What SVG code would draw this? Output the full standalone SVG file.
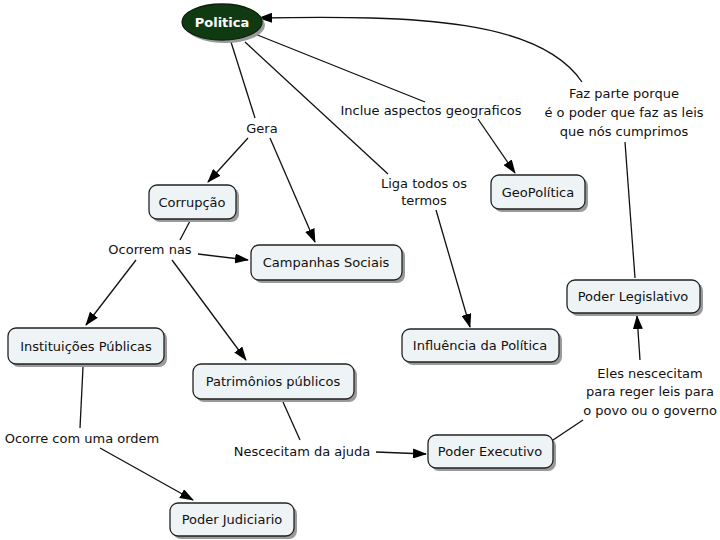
<svg xmlns="http://www.w3.org/2000/svg" width="720" height="540" viewBox="0 0 720 540">
<defs>
<marker id="ah" markerWidth="14" markerHeight="10" refX="13" refY="5" orient="auto" markerUnits="userSpaceOnUse">
<path d="M0,0 L14,5 L0,10 Z" fill="#000"/>
</marker>
<style>
.box{fill:#eef3f5;stroke:#222;stroke-width:1.3}
.sh{fill:#9a9a9a}
.t{font-family:"DejaVu Sans","Liberation Sans",sans-serif;font-size:13px;fill:#111;text-anchor:middle}
.c{fill:none;stroke:#111;stroke-width:1.3}
</style>
</defs>
<rect width="720" height="540" fill="#fff"/>
<g id="connectors">
<path class="c" d="M231,42 L255,118"/>
<path class="c" d="M248,138 L208,182" marker-end="url(#ah)"/>
<path class="c" d="M270,138 L315,242" marker-end="url(#ah)"/>
<path class="c" d="M255,34 L425,102"/>
<path class="c" d="M478,119 L515,173" marker-end="url(#ah)"/>
<path class="c" d="M245,42 L388,174"/>
<path class="c" d="M436,210 L470,327" marker-end="url(#ah)"/>
<path class="c" d="M635,278 L625,142"/>
<path class="c" d="M582,82 C540,20 420,15 259,18" marker-end="url(#ah)"/>
<path class="c" d="M190,221 L180,240"/>
<path class="c" d="M198,254 L248,260" marker-end="url(#ah)"/>
<path class="c" d="M136,260 L86,325" marker-end="url(#ah)"/>
<path class="c" d="M172,260 L246,360" marker-end="url(#ah)"/>
<path class="c" d="M83,367 L80,428"/>
<path class="c" d="M100,448 L193,500" marker-end="url(#ah)"/>
<path class="c" d="M283,402 L300,440"/>
<path class="c" d="M376,452 L426,454" marker-end="url(#ah)"/>
<path class="c" d="M553,440 L583,420"/>
<path class="c" d="M640,360 L637,316" marker-end="url(#ah)"/>
</g>
<g id="politica">
<ellipse cx="225" cy="25" rx="40" ry="18" fill="#9a9a9a"/>
<ellipse cx="222" cy="22" rx="40" ry="18" fill="#103a12" stroke="#0a220b" stroke-width="1.3"/>
<text x="222" y="27" class="t" style="fill:#fff;font-weight:bold">Politica</text>
</g>
<g id="corrupcao">
<rect class="sh" x="152" y="188" width="87" height="34" rx="8"/>
<rect class="box" x="149" y="185" width="87" height="34" rx="8"/>
<text x="192" y="207" class="t">Corrupção</text>
</g>
<g id="campanhas">
<rect class="sh" x="254" y="248" width="151" height="35" rx="8"/>
<rect class="box" x="251" y="245" width="151" height="35" rx="8"/>
<text x="326" y="267" class="t">Campanhas Sociais</text>
</g>
<g id="instituicoes">
<rect class="sh" x="11" y="331" width="156" height="36" rx="8"/>
<rect class="box" x="8" y="328" width="156" height="36" rx="8"/>
<text x="86" y="351" class="t">Instituições Públicas</text>
</g>
<g id="patrimonios">
<rect class="sh" x="196" y="367" width="161" height="35" rx="8"/>
<rect class="box" x="193" y="364" width="161" height="35" rx="8"/>
<text x="273" y="386" class="t">Patrimônios públicos</text>
</g>
<g id="influencia">
<rect class="sh" x="405" y="332" width="157" height="33" rx="8"/>
<rect class="box" x="402" y="329" width="157" height="33" rx="8"/>
<text x="480" y="350" class="t">Influência da Política</text>
</g>
<g id="geopolitica">
<rect class="sh" x="494" y="178" width="94" height="34" rx="8"/>
<rect class="box" x="491" y="175" width="94" height="34" rx="8"/>
<text x="538" y="197" class="t">GeoPolítica</text>
</g>
<g id="legislativo">
<rect class="sh" x="570" y="283" width="133" height="33" rx="8"/>
<rect class="box" x="567" y="280" width="133" height="33" rx="8"/>
<text x="633" y="301" class="t">Poder Legislativo</text>
</g>
<g id="executivo">
<rect class="sh" x="431" y="438" width="125" height="33" rx="8"/>
<rect class="box" x="428" y="435" width="125" height="33" rx="8"/>
<text x="490" y="456" class="t">Poder Executivo</text>
</g>
<g id="judiciario">
<rect class="sh" x="173" y="506" width="124" height="33" rx="8"/>
<rect class="box" x="170" y="503" width="124" height="33" rx="8"/>
<text x="232" y="524" class="t">Poder Judiciario</text>
</g>
<g id="labels">
<text x="262" y="133" class="t">Gera</text>
<text x="431" y="115" class="t">Inclue aspectos geograficos</text>
<text x="424" y="188" class="t">Liga todos os</text>
<text x="424" y="205" class="t">termos</text>
<text x="624" y="98" class="t">Faz parte porque</text>
<text x="624" y="117" class="t">é o poder que faz as leis</text>
<text x="624" y="136" class="t">que nós cumprimos</text>
<text x="150" y="254" class="t">Ocorrem nas</text>
<text x="82" y="443" class="t">Ocorre com uma ordem</text>
<text x="302" y="456" class="t">Nescecitam da ajuda</text>
<text x="650" y="378" class="t">Eles nescecitam</text>
<text x="650" y="396" class="t">para reger leis para</text>
<text x="650" y="415" class="t">o povo ou o governo</text>
</g>
</svg>
